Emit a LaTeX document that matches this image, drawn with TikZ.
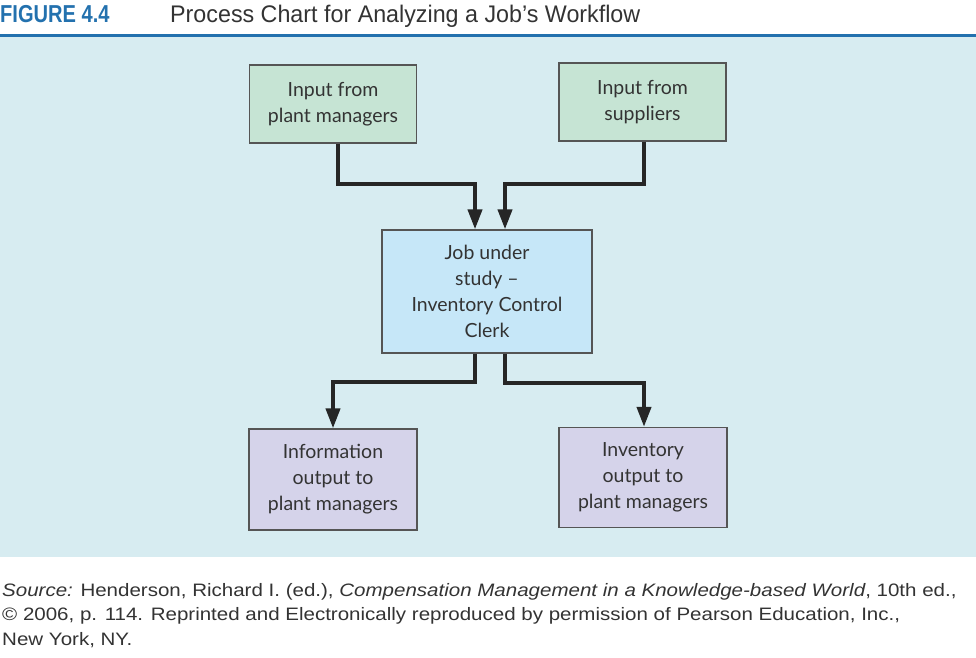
\documentclass[tikz,border=0pt]{standalone}
\usepackage{fontspec}
\setmainfont{Lato}
\newfontfamily\condfont[FakeStretch=0.82]{Liberation Sans}
\newfontfamily\titlefont[FakeStretch=0.97]{Liberation Sans}
\newfontfamily\srcfont[FakeStretch=1.14]{Liberation Sans}
\usetikzlibrary{arrows.meta,calc}
\definecolor{panel}{HTML}{D7ECF1}
\definecolor{greenbox}{HTML}{C6E4D4}
\definecolor{bluebox}{HTML}{C6E7F8}
\definecolor{purplebox}{HTML}{D5D3EA}
\definecolor{titleblue}{HTML}{2371AE}
\definecolor{boxline}{HTML}{555555}
\definecolor{txt}{HTML}{333333}
\tikzset{
  box/.style={draw=boxline, line width=1.3pt, align=center, text=txt,
    font=\fontsize{19.5}{26}\selectfont, inner sep=0pt},
  flow/.style={draw=black!85, line width=4pt,
    -{Triangle[width=14pt,length=20pt]}, shorten >=0pt},
  srcline/.style={anchor=base west, inner sep=0pt, text=txt,
    font=\srcfont\fontsize{18}{24.5}\selectfont},
}
\begin{document}
\begin{tikzpicture}[x=1pt,y=-1pt]
\useasboundingbox (0,0) rectangle (976,657);
\fill[panel] (0,37) rectangle (976,557);
\draw[titleblue, line width=2.5pt] (0,35.5) -- (976,35.5);
\node[anchor=base west, inner sep=0pt, text=titleblue, font=\condfont\bfseries\fontsize{24.5}{28}\selectfont] (fig) at (0,22) {FIGURE 4.4};
\node[anchor=base west, inner sep=0pt, text=txt, font=\titlefont\fontsize{24}{28}\selectfont] (title) at (170,22) {Process Chart for Analyzing a Job’s Workflow};

\node[box, fill=greenbox, minimum width=167pt, minimum height=78pt] (tl) at (333,104) {Input from\\plant managers};
\node[box, fill=greenbox, minimum width=167pt, minimum height=78pt] (tr) at (642.5,102) {Input from\\suppliers};
\node[box, fill=bluebox, minimum width=210pt, minimum height=123pt] (job) at (487,291.5) {Job under\\study –\\Inventory Control\\Clerk};
\node[box, fill=purplebox, minimum width=168pt, minimum height=101pt] (bl) at (333,479.5) {Information\\output to\\plant managers};
\node[box, fill=purplebox, minimum width=168pt, minimum height=100pt] (br) at (643,477.5) {Inventory\\output to\\plant managers};

\draw[flow] ([xshift=5pt]tl.south) |- ($([xshift=-12pt]job.north)+(0,-45)$) -- ([xshift=-12pt]job.north);
\draw[flow] ([xshift=1.5pt]tr.south) |- ($([xshift=18pt]job.north)+(0,-45)$) -- ([xshift=18pt]job.north);
\draw[flow] ([xshift=-12pt]job.south) |- ($(bl.north)+(0,-46)$) -- (bl.north);
\draw[flow] ([xshift=18pt]job.south) |- ($([xshift=1pt]br.north)+(0,-44)$) -- ([xshift=1pt]br.north);

\node[srcline] (src1) at (2,596) {\textit{Source:} Henderson, Richard I. (ed.), \textit{Compensation Management in a Knowledge-based World}, 10th ed.,};
\node[srcline] (src2) at (2,620.5) {© 2006, p. 114. Reprinted and Electronically reproduced by permission of Pearson Education, Inc.,};
\node[srcline] (src3) at (2,645) {New York, NY.};
\end{tikzpicture}
\end{document}
